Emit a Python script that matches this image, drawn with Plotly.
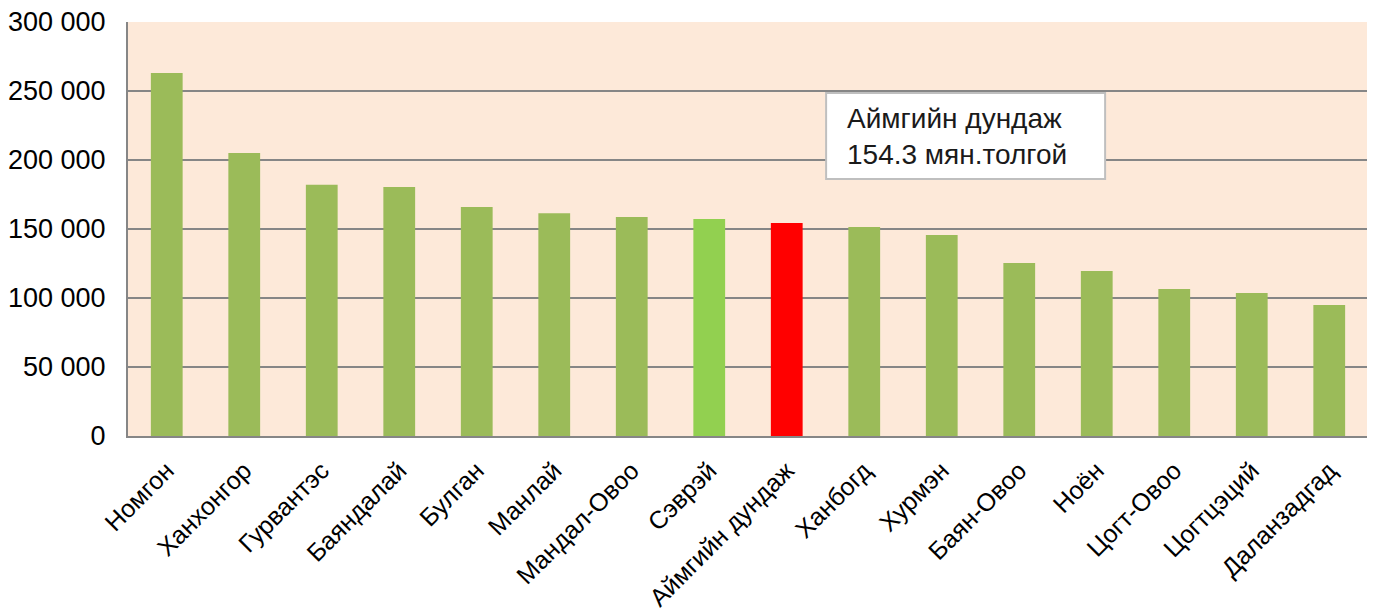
import plotly.graph_objects as go

categories = ["Номгон", "Ханхонгор", "Гурвантэс", "Баяндалай", "Булган", "Манлай",
              "Мандал-Овоо", "Сэврэй", "Аймгийн дундаж", "Ханбогд", "Хурмэн",
              "Баян-Овоо", "Ноён", "Цогт-Овоо", "Цогтцэций", "Даланзадгад"]
values = [263000, 205000, 182000, 180500, 166000, 161500, 158700, 157200, 154300,
          151400, 145700, 125400, 119600, 106500, 103600, 95000]
bar_colors = ["#9BBB59"] * 7 + ["#92D050", "#FF0000"] + ["#9BBB59"] * 7
y_ticks = [0, 50000, 100000, 150000, 200000, 250000, 300000]
note_lines = ["Аймгийн дундаж", "154.3 мян.толгой"]

font_family = "Liberation Sans, Arial, sans-serif"

fig = go.Figure(go.Bar(x=categories, y=values, marker=dict(color=bar_colors, line=dict(width=0)),
                       showlegend=False))

# page body has an 8px default margin: compensate so the plot area lands where the reference has it
fig.update_layout(
    width=1367, height=604,
    margin=dict(l=120, r=7, t=14, b=176),
    paper_bgcolor="rgba(0,0,0,0)",
    plot_bgcolor="#FDE9D9",
    bargap=0.59,
    separators=". ",
    font=dict(family=font_family, color="black"),
)
fig.update_yaxes(range=[0, 300000], tickvals=y_ticks, tickformat=",d", automargin=False,
                 showgrid=True, gridcolor="#868686", gridwidth=2,
                 showline=True, linecolor="#868686", linewidth=2,
                 zeroline=False, tickfont=dict(size=27, family=font_family),
                 ticks="outside", ticklen=0, ticklabelstandoff=15, ticklabeloverflow="allow")
fig.update_xaxes(showline=True, linecolor="#868686", linewidth=2, tickangle=-45, automargin=False,
                 tickfont=dict(size=25, family=font_family), ticklabelstandoff=8,
                 ticklabeloverflow="allow")

fig.add_shape(type="rect", xref="paper", yref="paper", x0=0.563, x1=0.788, y0=0.621, y1=0.8285,
              fillcolor="white", line=dict(color="#BFBFBF", width=2), layer="above")
fig.add_annotation(xref="paper", yref="paper", x=0.578, y=0.7246, xanchor="left", yanchor="middle",
                   align="left", showarrow=False, text="<br>".join(note_lines),
                   font=dict(size=28, family=font_family, color="#1a1a1a"))

fig.write_html("out.html")
